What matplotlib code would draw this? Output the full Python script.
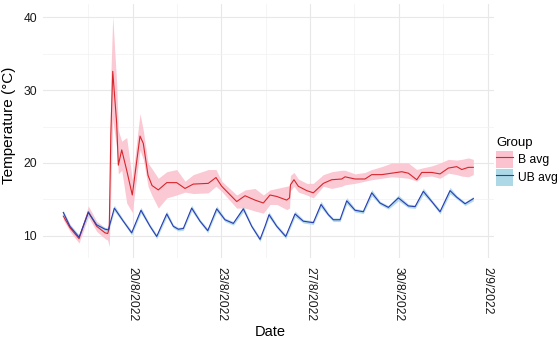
import numpy as np
import matplotlib
matplotlib.use("Agg")
import matplotlib.pyplot as plt
from matplotlib.patches import Patch
from matplotlib.lines import Line2D
from matplotlib.legend_handler import HandlerTuple

plt.rcParams['font.family'] = ['Liberation Sans', 'DejaVu Sans']

# time axis: hours since 17/8/2022 00:00
x_tick_hours = [72, 156, 240, 324, 408]
x_tick_labels = ['20/8/2022', '23/8/2022', '27/8/2022', '30/8/2022', '2/9/2022']
x_minor_hours = [30, 114, 198, 282, 366]
y_ticks = [10, 20, 30, 40]
y_minor = [15, 25, 35]

# B avg (mean with ribbon)
b_hours = [6.5, 12.8, 21.4, 30.2, 38.1, 46.0, 48.5, 50.0, 51.5, 53.3,
           57.0, 58.6, 61.8, 66.5, 71.8, 79.1, 82.2, 86.7, 90.5, 96.4,
           104.4, 113.8, 121.7, 129.5, 143.7, 151.0, 156.4, 170.6, 178.5, 187.9,
           195.8, 202.1, 208.5, 217.9, 220.6, 221.5, 224.8, 228.9, 236.9, 243.1,
           252.6, 260.5, 270.0, 273.1, 282.6, 292.0, 298.4, 307.8, 317.3, 326.8,
           333.0, 341.0, 345.7, 355.2, 363.0, 370.9, 378.8, 383.6, 389.8, 394.5]
b_avg = [12.7, 11.1, 9.6, 13.3, 11.3, 10.4, 10.3, 11.0, 24.0, 32.6,
         25.5, 19.7, 21.8, 19.0, 15.6, 23.7, 22.7, 18.3, 16.9, 16.3,
         17.3, 17.3, 16.5, 17.1, 17.2, 18.0, 16.8, 14.7, 15.5, 14.9,
         14.5, 15.6, 15.4, 14.9, 15.2, 17.0, 17.7, 16.8, 16.2, 15.9,
         17.2, 17.7, 17.8, 18.1, 17.8, 17.8, 18.4, 18.4, 18.6, 18.8,
         18.6, 17.7, 18.7, 18.7, 18.5, 19.3, 19.5, 19.1, 19.4, 19.4]
b_lo = [12.2, 10.6, 9.0, 12.6, 10.6, 9.6, 9.4, 8.5, 16.0, 26.0,
        22.0, 18.5, 19.0, 14.5, 13.2, 21.8, 20.5, 16.8, 15.5, 13.8,
        15.2, 15.6, 16.0, 15.8, 15.9, 16.8, 16.1, 13.8, 13.8, 13.4,
        13.1, 14.3, 14.3, 13.6, 13.8, 16.2, 16.8, 16.0, 15.6, 15.2,
        16.8, 16.5, 16.8, 17.0, 17.2, 17.5, 17.7, 17.9, 18.1, 18.0,
        17.9, 17.5, 18.1, 18.2, 17.9, 18.6, 18.4, 18.2, 18.1, 18.4]
b_hi = [13.3, 11.6, 10.1, 14.1, 12.0, 11.1, 11.2, 13.0, 32.0, 40.2,
        31.0, 24.5, 23.0, 23.5, 17.7, 26.8, 24.5, 20.0, 19.2, 17.9,
        18.8, 19.1, 17.5, 18.4, 19.1, 19.1, 17.5, 15.6, 16.3, 16.5,
        15.6, 16.3, 16.5, 16.8, 16.9, 18.3, 18.7, 17.8, 17.2, 17.2,
        18.4, 18.8, 19.0, 19.0, 18.5, 18.7, 19.1, 19.5, 20.0, 20.0,
        20.0, 19.1, 19.3, 19.6, 20.0, 20.5, 20.4, 20.5, 20.7, 20.5]

# UB avg (mean with narrow ribbon)
ub_hours = [6.5, 12.8, 21.4, 30.2, 38.1, 46.0, 49.1, 54.8, 63.3, 71.2,
            80.0, 88.6, 94.9, 104.4, 110.6, 115.3, 120.1, 128.0, 135.9, 143.2,
            151.7, 159.5, 167.4, 176.9, 184.8, 192.7, 197.4, 201.2, 208.5, 217.0,
            225.8, 233.6, 243.1, 250.4, 257.3, 262.0, 268.4, 274.7, 282.6, 290.4,
            298.4, 306.2, 314.1, 323.6, 333.0, 339.4, 347.2, 355.2, 363.0, 372.5,
            378.8, 386.7, 394.5]
ub_avg = [13.2, 11.3, 9.8, 13.2, 11.5, 10.9, 10.8, 13.8, 12.0, 10.4,
          13.5, 11.3, 9.9, 13.0, 11.3, 10.9, 11.0, 13.8, 12.0, 10.7,
          13.7, 12.2, 11.7, 13.7, 11.3, 9.5, 11.3, 12.9, 11.3, 9.9,
          13.0, 12.0, 11.8, 14.3, 12.9, 12.2, 12.2, 14.8, 13.5, 13.3,
          15.9, 14.5, 13.9, 15.2, 14.1, 14.0, 16.1, 14.7, 13.3, 16.2,
          15.3, 14.4, 15.1]
ub_sd = [0.3, 0.25, 0.3, 0.4, 0.25, 0.25, 0.25, 0.4, 0.25, 0.3,
         0.4, 0.25, 0.3, 0.4, 0.25, 0.25, 0.25, 0.4, 0.25, 0.3,
         0.4, 0.25, 0.25, 0.4, 0.25, 0.3, 0.25, 0.4, 0.25, 0.3,
         0.4, 0.25, 0.25, 0.45, 0.25, 0.25, 0.25, 0.45, 0.25, 0.25,
         0.45, 0.25, 0.25, 0.4, 0.25, 0.25, 0.45, 0.25, 0.3, 0.45,
         0.25, 0.25, 0.3]

b_line = '#d7262c'
b_fill = '#fbc3cf'
ub_line = '#2a3cb3'
ub_fill = '#add8e6'

fig = plt.figure(figsize=(5.6, 3.4), dpi=100)
ax = fig.add_axes([0.0764, 0.2406, 0.8054, 0.7462])

ub_avg_a = np.array(ub_avg)
ub_sd_a = np.array(ub_sd)
ax.fill_between(b_hours, b_lo, b_hi, color=b_fill, alpha=0.9, lw=0, zorder=2)
ax.fill_between(ub_hours, ub_avg_a - ub_sd_a, ub_avg_a + ub_sd_a,
                color=ub_fill, alpha=0.9, lw=0, zorder=3)
ax.plot(b_hours, b_avg, color=b_line, lw=0.8, zorder=4)
ax.plot(ub_hours, ub_avg, color=ub_line, lw=0.8, zorder=5)

ax.margins(x=0.05, y=0.05)

ax.set_xticks(x_tick_hours)
ax.set_xticklabels(x_tick_labels, rotation=270, va='top', ha='center')
ax.set_xticks(x_minor_hours, minor=True)
ax.set_yticks(y_ticks)
ax.set_yticks(y_minor, minor=True)
ax.tick_params(axis='both', which='both', length=0, labelsize=8.7, colors='#1a1a1a')
ax.tick_params(axis='x', pad=6)
ax.tick_params(axis='y', pad=4)

ax.grid(which='major', color='#e8e8e8', lw=0.8)
ax.grid(which='minor', color='#f1f1f1', lw=0.5)
ax.set_axisbelow(True)
for s in ax.spines.values():
    s.set_visible(False)

fig.text(9 / 560, 1 - 125 / 340, 'Temperature (°C)', rotation=90,
         ha='center', va='center', fontsize=11)
fig.text(270 / 560, 1 - 332 / 340, 'Date', ha='center', va='center', fontsize=10.5)

handles = [(Patch(facecolor=b_fill, edgecolor='none'), Line2D([], [], color=b_line, lw=0.8)),
           (Patch(facecolor=ub_fill, edgecolor='none'), Line2D([], [], color=ub_line, lw=0.8))]
leg = fig.legend(handles, ['B avg', 'UB avg'], title='Group',
                 handler_map={tuple: HandlerTuple(ndivide=1)},
                 loc='upper left', bbox_to_anchor=(494 / 560, 1 - 135 / 340),
                 frameon=False, fontsize=8.7, title_fontsize=9.5,
                 handlelength=1.4, handleheight=1.7, handletextpad=0.35,
                 labelspacing=0.15, borderpad=0.2, borderaxespad=0)
leg._legend_box.align = 'left'

fig.savefig('out.png', dpi=100)
